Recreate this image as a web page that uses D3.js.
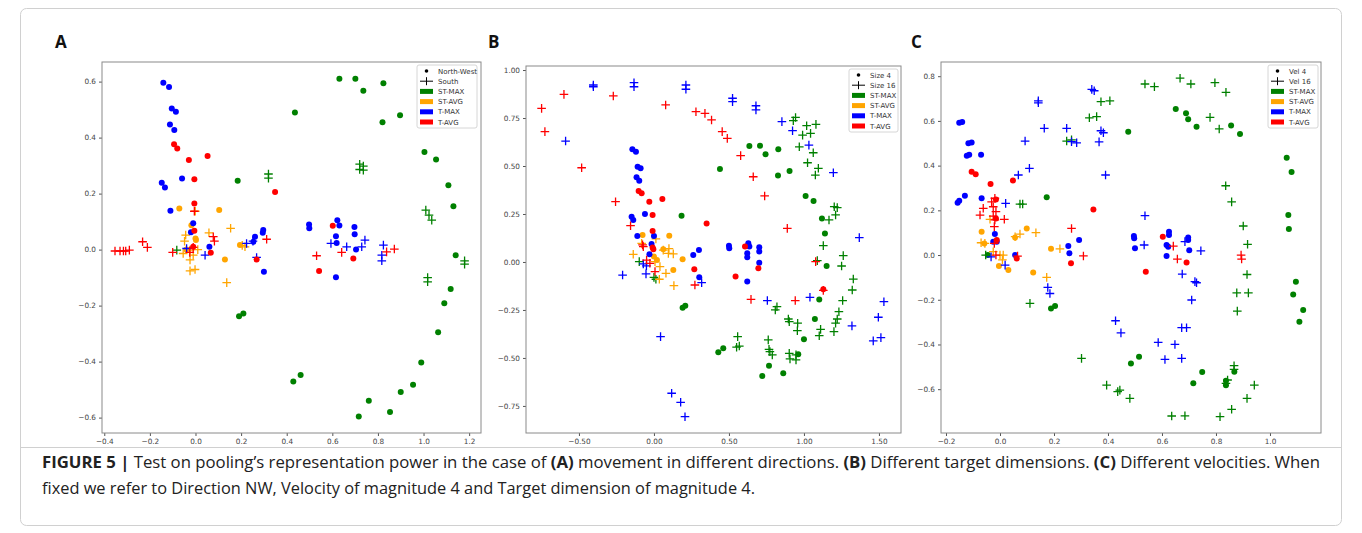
<!DOCTYPE html>
<html>
<head>
<meta charset="utf-8">
<script src="https://cdn.jsdelivr.net/npm/d3@7"></script>
<style>
  body { margin: 0; background: #fff; }
  svg { display: block; font-family: "Open Sans", "DejaVu Sans", sans-serif; }
</style>
</head>
<body>
<div id="chart"></div>
<script>
// series names and legend labels
const seriesNames = ["ST-MAX", "ST-AVG", "T-MAX", "T-AVG"];
const seriesColors = ["#008000", "#ffa500", "#0000ff", "#ff0000"];
const markerLabelsA = ["North-West", "South"];
const markerLabelsB = ["Size 4", "Size 16"];
const markerLabelsC = ["Vel 4", "Vel 16"];

// tick values
const ticksAx = [-0.4, -0.2, 0.0, 0.2, 0.4, 0.6, 0.8, 1.0, 1.2];
const ticksAy = [-0.6, -0.4, -0.2, 0.0, 0.2, 0.4, 0.6];
const ticksBx = [-0.5, 0.0, 0.5, 1.0, 1.5];
const ticksBy = [-0.75, -0.5, -0.25, 0.0, 0.25, 0.5, 0.75, 1.0];
const ticksCx = [-0.2, 0.0, 0.2, 0.4, 0.6, 0.8, 1.0];
const ticksCy = [-0.6, -0.4, -0.2, 0.0, 0.2, 0.4, 0.6, 0.8];

// ---- panel A: directions (dot = North-West, plus = South)
const aStMaxDot = [[0.185,0.246],[0.191,-0.238],[0.21,-0.228],[0.631,0.61],[0.701,0.61],[0.824,0.594],[0.736,0.567],[0.436,0.49],[0.897,0.48],[0.82,0.455],[1.004,0.349],[1.055,0.322],[1.109,0.23],[1.131,0.155],[1.141,-0.02],[1.119,-0.141],[1.091,-0.192],[1.064,-0.295],[0.99,-0.403],[0.954,-0.483],[0.9,-0.509],[0.853,-0.58],[0.76,-0.54],[0.716,-0.596],[0.429,-0.471],[0.461,-0.448]];
const aStMaxPlus = [[0.32,0.27],[0.32,0.255],[0.72,0.305],[0.736,0.298],[0.72,0.286],[0.736,0.284],[1.01,0.141],[1.024,0.123],[1.036,0.105],[1.18,-0.04],[1.18,-0.052],[1.018,-0.1],[1.018,-0.115],[-0.082,-0.002]];
const aStAvgDot = [[-0.071,0.147],[0.104,0.141],[-0.018,0.087],[0.002,0.034],[0.195,0.016],[0.129,-0.035],[0.0,0.04],[-0.04,0.0]];
const aStAvgPlus = [[-0.001,0.137],[0.154,0.076],[0.059,0.06],[-0.043,0.052],[-0.048,0.03],[0.205,0.015],[0.217,0.01],[-0.054,-0.014],[-0.024,-0.002],[-0.024,-0.037],[-0.024,-0.076],[-0.002,-0.071],[0.137,-0.118],[-0.01,-0.02],[0.01,0.0]];
const aTMaxDot = [[-0.141,0.596],[-0.116,0.581],[-0.104,0.504],[-0.086,0.492],[-0.112,0.447],[-0.093,0.427],[-0.059,0.254],[-0.148,0.239],[-0.134,0.222],[-0.11,0.139],[-0.01,0.094],[-0.02,0.062],[0.061,0.01],[0.3,-0.079],[0.297,0.07],[0.295,0.06],[0.261,0.046],[0.254,0.028],[0.498,0.09],[0.499,0.076],[0.622,0.105],[0.631,0.086],[0.616,0.048],[0.697,0.081],[0.698,0.055],[0.619,0.024],[0.704,0.0],[0.616,-0.099]];
const aTMaxPlus = [[-0.039,0.004],[0.042,-0.02],[0.224,0.022],[0.252,0.03],[0.268,-0.028],[0.594,0.022],[0.663,0.01],[0.729,0.01],[0.743,0.034],[0.824,0.016],[0.817,-0.02],[0.817,-0.04]];
const aTAvgDot = [[-0.094,0.376],[-0.08,0.361],[-0.029,0.32],[0.053,0.334],[-0.005,0.251],[-0.005,0.165],[-0.005,0.067],[0.349,0.206],[-0.01,0.01],[0.067,-0.011],[0.268,-0.035],[0.602,0.085],[0.542,-0.076],[0.692,-0.032]];
const aTAvgPlus = [[-0.353,-0.005],[-0.331,-0.005],[-0.316,-0.005],[-0.306,-0.005],[-0.29,-0.002],[-0.232,0.028],[-0.211,0.008],[-0.1,-0.01],[-0.01,0.008],[-0.025,-0.01],[0.078,0.046],[0.083,0.03],[0.312,0.037],[0.531,-0.022],[0.641,-0.01],[0.838,-0.008],[0.872,0.002],[-0.005,0.137]];

// ---- panel B: target size (dot = Size 4, plus = Size 16)
const bStMaxDot = [[0.184,0.241],[0.191,-0.238],[0.209,-0.228],[0.636,0.604],[0.707,0.606],[0.829,0.587],[0.744,0.561],[0.44,0.484],[0.904,0.474],[0.827,0.45],[1.011,0.344],[1.064,0.318],[1.12,0.226],[1.14,0.149],[1.151,-0.021],[1.102,-0.195],[1.073,-0.297],[1.0,-0.403],[0.962,-0.481],[0.862,-0.58],[0.767,-0.54],[0.722,-0.594],[0.429,-0.47],[0.462,-0.449]];
const bStMaxPlus = [[-0.098,0.002],[0.0,-0.08],[0.013,-0.09],[0.944,0.753],[0.929,0.736],[1.018,0.71],[1.08,0.717],[0.991,0.661],[1.044,0.67],[0.969,0.6],[1.062,0.569],[1.024,0.517],[1.096,0.488],[1.076,0.453],[1.202,0.288],[1.222,0.283],[1.211,0.245],[1.167,0.219],[1.129,0.085],[1.089,0.007],[1.262,0.033],[1.251,-0.021],[1.329,-0.089],[1.322,-0.146],[1.258,-0.201],[1.233,-0.259],[1.222,-0.297],[1.211,-0.319],[1.2,-0.363],[1.111,-0.351],[1.102,-0.384],[0.958,-0.319],[0.956,-0.358],[0.896,-0.297],[0.902,-0.311],[0.82,-0.233],[0.809,-0.25],[0.558,-0.389],[0.551,-0.444],[0.569,-0.438],[0.762,-0.406],[0.767,-0.455],[0.773,-0.467],[0.789,-0.484],[0.902,-0.476],[0.907,-0.505],[0.947,-0.484],[0.947,-0.51]];
const bStAvgDot = [[-0.076,0.141],[0.102,0.137],[0.0,0.028],[0.191,0.014],[0.129,-0.042],[0.062,0.066],[0.02,0.01]];
const bStAvgPlus = [[0.013,0.12],[0.1,0.07],[-0.138,0.04],[-0.082,0.097],[0.062,0.062],[0.096,0.045],[0.129,0.042],[0.04,-0.024],[0.08,-0.059],[0.036,-0.09],[0.133,-0.123],[0.007,0.002]];
const bTMaxDot = [[-0.144,0.587],[-0.12,0.574],[-0.109,0.496],[-0.089,0.488],[-0.116,0.441],[-0.098,0.423],[-0.149,0.236],[-0.138,0.219],[-0.06,0.25],[-0.111,0.135],[0.0,0.135],[-0.016,0.094],[-0.03,0.04],[0.262,0.036],[0.3,0.063],[0.302,-0.08],[0.5,0.085],[0.502,0.071],[0.629,0.097],[0.636,0.08],[0.622,0.045],[0.622,0.024],[0.702,0.077],[0.702,0.054],[0.702,-0.004],[0.622,-0.102]];
const bTMaxPlus = [[-0.404,0.913],[-0.404,0.922],[-0.133,0.934],[-0.133,0.913],[0.213,0.922],[0.213,0.9],[-0.589,0.63],[0.524,0.853],[0.524,0.835],[0.68,0.814],[0.68,0.792],[0.853,0.731],[0.924,0.684],[1.033,0.609],[1.196,0.465],[1.369,0.127],[-0.209,-0.068],[-0.071,-0.01],[-0.053,-0.062],[-0.05,-0.02],[0.044,-0.389],[0.118,-0.684],[0.178,-0.731],[0.207,-0.806],[0.318,-0.108],[0.756,-0.201],[1.04,-0.184],[1.533,-0.207],[1.496,-0.288],[1.32,-0.333],[1.462,-0.411],[1.513,-0.394]];
const bTAvgDot = [[-0.102,0.37],[-0.082,0.358],[-0.031,0.314],[0.056,0.328],[-0.009,0.245],[-0.009,0.161],[-0.009,0.075],[-0.004,0.066],[0.351,0.201],[0.607,0.08],[0.269,-0.038],[0.544,-0.076],[0.696,-0.033],[1.129,-0.142]];
const bTAvgPlus = [[-0.749,0.8],[-0.727,0.679],[-0.6,0.873],[-0.482,0.491],[-0.271,0.865],[-0.256,0.314],[-0.156,0.189],[0.078,0.818],[0.28,0.783],[0.34,0.774],[0.384,0.74],[0.455,0.679],[0.489,0.644],[0.578,0.554],[0.662,0.444],[0.738,0.344],[0.889,0.175],[-0.076,0.089],[-0.071,0.08],[-0.049,0.01],[-0.027,-0.007],[0.007,-0.05],[0.273,-0.12],[0.647,-0.195],[0.942,-0.201],[1.078,0.002],[1.129,-0.148]];

// ---- panel C: velocity (dot = Vel 4, plus = Vel 16)
const cStMaxDot = [[0.173,0.258],[0.189,-0.239],[0.204,-0.228],[0.651,0.653],[0.689,0.634],[0.697,0.607],[0.728,0.574],[0.856,0.58],[0.889,0.541],[0.475,0.552],[1.062,0.435],[1.08,0.371],[1.068,0.179],[1.07,0.116],[1.096,-0.119],[1.086,-0.176],[1.123,-0.246],[1.109,-0.298],[0.749,-0.523],[0.716,-0.574],[0.837,-0.562],[0.837,-0.582],[0.868,-0.522],[0.515,-0.455],[0.485,-0.485],[-0.045,0.0]];
const cStMaxPlus = [[0.374,0.686],[0.407,0.69],[0.331,0.614],[0.358,0.619],[0.247,0.51],[0.265,0.515],[0.074,0.228],[0.084,0.228],[-0.053,0.0],[0.111,-0.216],[0.302,-0.462],[0.395,-0.582],[0.436,-0.611],[0.444,-0.604],[0.481,-0.641],[0.537,0.765],[0.572,0.753],[0.667,0.791],[0.707,0.765],[0.796,0.771],[0.837,0.728],[0.778,0.616],[0.812,0.564],[0.836,0.31],[0.858,0.238],[0.901,0.13],[0.917,0.048],[0.915,-0.087],[0.877,-0.169],[0.92,-0.169],[0.879,-0.251],[0.867,-0.495],[0.867,-0.511],[0.843,-0.559],[0.837,-0.574],[0.942,-0.582],[0.915,-0.641],[0.858,-0.69],[0.815,-0.723],[0.685,-0.719],[0.636,-0.72]];
const cStAvgDot = [[-0.068,0.104],[0.099,0.119],[0.056,0.078],[-0.058,0.052],[0.189,0.028],[-0.004,-0.049],[0.031,-0.067],[0.123,-0.078]];
const cStAvgPlus = [[-0.037,0.16],[-0.07,0.055],[-0.056,0.052],[0.074,0.094],[0.056,0.082],[0.133,0.1],[0.222,0.028],[-0.025,0.015],[0.0,0.0],[0.012,0.0],[0.009,-0.022],[0.173,-0.1]];
const cTMaxDot = [[-0.151,0.592],[-0.14,0.595],[-0.117,0.5],[-0.105,0.503],[-0.123,0.444],[-0.114,0.449],[-0.07,0.449],[-0.157,0.234],[-0.151,0.243],[-0.13,0.265],[-0.068,0.254],[-0.019,0.094],[-0.025,0.06],[-0.012,0.06],[0.253,0.04],[0.293,0.067],[0.257,0.008],[0.056,0.0],[0.496,0.085],[0.497,0.075],[0.626,0.104],[0.626,0.09],[0.697,0.078],[0.697,0.067],[0.617,0.045],[0.5,0.03],[0.623,0.037],[0.701,0.022],[0.617,-0.004]];
const cTMaxPlus = [[0.142,0.69],[0.142,0.681],[0.164,0.567],[0.093,0.51],[0.109,0.388],[0.068,0.358],[0.021,0.231],[0.247,0.567],[0.284,0.502],[0.265,0.507],[0.34,0.741],[0.349,0.735],[0.374,0.556],[0.383,0.547],[0.367,0.506],[0.391,0.358],[-0.033,-0.008],[0.019,-0.045],[0.177,-0.145],[0.185,-0.172],[0.428,-0.294],[0.448,-0.348],[0.537,0.176],[0.534,0.045],[0.685,0.06],[0.744,0.019],[0.675,-0.085],[0.722,-0.119],[0.728,-0.124],[0.71,-0.201],[0.673,-0.325],[0.691,-0.325],[0.586,-0.391],[0.648,-0.4],[0.611,-0.467],[0.673,-0.462]];
const cTAvgDot = [[-0.105,0.373],[-0.09,0.361],[-0.035,0.318],[0.048,0.333],[-0.015,0.249],[-0.015,0.164],[-0.012,0.067],[0.346,0.204],[0.062,-0.015],[0.263,-0.037],[0.603,0.082],[0.54,-0.075],[0.691,-0.033]];
const cTAvgPlus = [[-0.019,0.254],[-0.031,0.238],[-0.025,0.216],[-0.015,0.194],[-0.025,0.174],[-0.019,0.157],[0.016,0.16],[-0.062,0.209],[-0.074,0.179],[-0.021,0.127],[0.265,0.119],[-0.021,0.052],[0.065,-0.005],[0.309,-0.004],[-0.015,0.0],[0.642,0.04],[0.657,-0.018],[0.893,0.0],[0.895,-0.018]];

const W = 1362, H = 533;
const svg = d3.select("#chart").append("svg").attr("width", W).attr("height", H);
svg.append("rect").attr("width", W).attr("height", H).attr("fill", "#fff");

// outer figure frame + caption separator
svg.append("rect").attr("x", 20.5).attr("y", 8.5).attr("width", 1321).attr("height", 517)
  .attr("rx", 6).attr("fill", "none").attr("stroke", "#d0d0d0").attr("stroke-width", 1);
svg.append("line").attr("x1", 21).attr("x2", 1341).attr("y1", 447.5).attr("y2", 447.5)
  .attr("stroke", "#d0d0d0");

// panels: frame in pixels plus data domain
const panels = [
  { letter: "A", lx: 55, box: [102, 62, 481, 433], xd: [-0.41, 1.252], yd: [-0.655, 0.67],
    xt: ticksAx, yt: ticksAy, fmt: d3.format(".1f"),
    dots: [aStMaxDot, aStAvgDot, aTMaxDot, aTAvgDot], plus: [aStMaxPlus, aStAvgPlus, aTMaxPlus, aTAvgPlus],
    leg: { x: 417, y: 65, w: 60, labels: markerLabelsA } },
  { letter: "B", lx: 488, box: [526, 66, 901, 433], xd: [-0.853, 1.647], yd: [-0.891, 1.021],
    xt: ticksBx, yt: ticksBy, fmt: d3.format(".2f"),
    dots: [bStMaxDot, bStAvgDot, bTMaxDot, bTAvgDot], plus: [bStMaxPlus, bStAvgPlus, bTMaxPlus, bTAvgPlus],
    leg: { x: 849, y: 69, w: 49, labels: markerLabelsB } },
  { letter: "C", lx: 911, box: [941, 62, 1321, 433], xd: [-0.2185, 1.189], yd: [-0.796, 0.8635],
    xt: ticksCx, yt: ticksCy, fmt: d3.format(".1f"),
    dots: [cStMaxDot, cStAvgDot, cTMaxDot, cTAvgDot], plus: [cStMaxPlus, cStAvgPlus, cTMaxPlus, cTAvgPlus],
    leg: { x: 1268, y: 65, w: 50, labels: markerLabelsC } }
];

const minus = s => s.replace("-", "\u2212");
const plusPath = "M-4.3,0H4.3M0,-4.3V4.3";

panels.forEach(p => {
  const [x0, y0, x1, y1] = p.box;
  const x = d3.scaleLinear().domain(p.xd).range([x0, x1]);
  const y = d3.scaleLinear().domain(p.yd).range([y1, y0]);

  svg.append("text").attr("x", p.lx).attr("y", 48).text(p.letter)
    .attr("font-size", 17).attr("font-weight", "bold").attr("fill", "#111");

  const g = svg.append("g");

  // axes
  const xAxis = d3.axisBottom(x).tickValues(p.xt).tickSize(3).tickPadding(3).tickFormat(d => minus(p.fmt(d)));
  const yAxis = d3.axisLeft(y).tickValues(p.yt).tickSize(3).tickPadding(3).tickFormat(d => minus(p.fmt(d)));
  const gx = g.append("g").attr("transform", `translate(0,${y1})`).call(xAxis);
  const gy = g.append("g").attr("transform", `translate(${x0},0)`).call(yAxis);
  [gx, gy].forEach(a => {
    a.select(".domain").remove();
    a.selectAll(".tick line").attr("stroke", "#555");
    a.selectAll("text").attr("font-size", 7.3).attr("fill", "#444")
      .attr("font-family", "DejaVu Sans, sans-serif");
  });

  // markers, one series at a time
  p.dots.forEach((pts, i) => {
    g.append("g").selectAll("circle").data(pts).join("circle")
      .attr("cx", d => x(d[0])).attr("cy", d => y(d[1])).attr("r", 3)
      .attr("fill", seriesColors[i]);
    g.append("g").selectAll("path").data(p.plus[i]).join("path")
      .attr("transform", d => `translate(${x(d[0])},${y(d[1])})`)
      .attr("d", plusPath).attr("stroke", seriesColors[i]).attr("stroke-width", 1.3)
      .attr("fill", "none");
  });

  // frame
  g.append("rect").attr("x", x0).attr("y", y0).attr("width", x1 - x0).attr("height", y1 - y0)
    .attr("fill", "none").attr("stroke", "#8a8a8a").attr("stroke-width", 1);

  // legend
  const L = p.leg;
  const lg = svg.append("g").attr("transform", `translate(${L.x},${L.y})`);
  lg.append("rect").attr("width", L.w).attr("height", 63).attr("rx", 2)
    .attr("fill", "#fff").attr("fill-opacity", 0.85).attr("stroke", "#ccc").attr("stroke-width", 0.8);
  const rows = [
    { t: L.labels[0], kind: "dot", c: "#000" },
    { t: L.labels[1], kind: "plus", c: "#000" }
  ].concat(seriesNames.map((s, i) => ({ t: s, kind: "patch", c: seriesColors[i] })));
  rows.forEach((r, i) => {
    const ry = 6 + i * 10.2;
    const hx = 3, hw = 13;
    if (r.kind === "dot") {
      lg.append("circle").attr("cx", hx + hw / 2).attr("cy", ry).attr("r", 1.8).attr("fill", r.c);
    } else if (r.kind === "plus") {
      lg.append("path").attr("d", `M${hx},${ry}H${hx + hw}M${hx + hw / 2},${ry - 4}V${ry + 4}`)
        .attr("stroke", r.c).attr("stroke-width", 1).attr("fill", "none");
    } else {
      lg.append("rect").attr("x", hx).attr("y", ry - 2.5).attr("width", hw).attr("height", 5).attr("fill", r.c);
    }
    lg.append("text").attr("x", hx + hw + 5).attr("y", ry + 2.6).text(r.t)
      .attr("font-size", 7).attr("fill", "#333").attr("font-family", "DejaVu Sans, sans-serif");
  });
});

// caption
const cap = svg.append("text").attr("x", 42).attr("y", 468).attr("font-size", 15.8).attr("fill", "#222")
  .attr("textLength", 1278).attr("lengthAdjust", "spacingAndGlyphs");
cap.append("tspan").attr("font-weight", "bold").text("FIGURE 5 | ");
cap.append("tspan").text("Test on pooling\u2019s representation power in the case of ");
cap.append("tspan").attr("font-weight", "bold").text("(A)");
cap.append("tspan").text(" movement in different directions. ");
cap.append("tspan").attr("font-weight", "bold").text("(B)");
cap.append("tspan").text(" Different target dimensions. ");
cap.append("tspan").attr("font-weight", "bold").text("(C)");
cap.append("tspan").text(" Different velocities. When");
svg.append("text").attr("x", 42).attr("y", 494).attr("font-size", 15.8).attr("fill", "#222")
  .attr("textLength", 713).attr("lengthAdjust", "spacingAndGlyphs")
  .text("fixed we refer to Direction NW, Velocity of magnitude 4 and Target dimension of magnitude 4.");
</script>
</body>
</html>
